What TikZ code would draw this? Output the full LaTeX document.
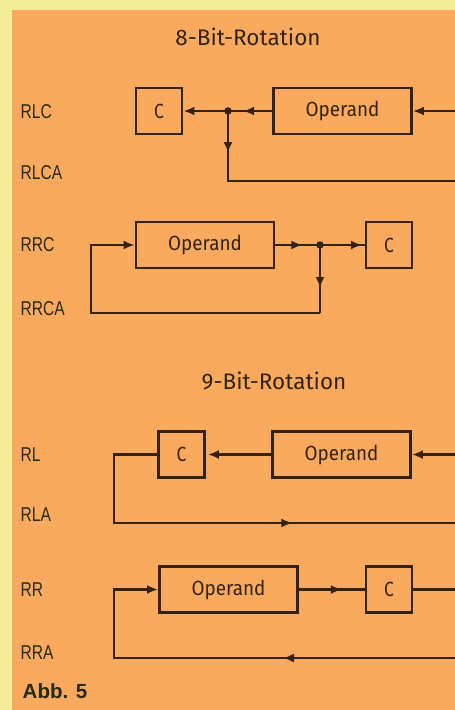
\documentclass[tikz,border=0pt]{standalone}
\usepackage{graphicx}
\usepackage{fontspec}
\setmainfont{Liberation Sans}
\newfontfamily\isofont{Fira Sans}
\usetikzlibrary{arrows.meta,decorations.markings}
\definecolor{paper}{RGB}{244,238,152}
\definecolor{panel}{RGB}{249,170,94}
\definecolor{ink}{RGB}{52,34,16}
\definecolor{labelink}{RGB}{38,42,18}
% condensed lettering for the instruction names and box texts
\newcommand\narrowtext[2]{\scalebox{#1}[1]{#2}}
\tikzset{
  tip/.tip={Latex[length=11pt,width=9pt]},
  wire/.style={draw=ink, line width=2.3pt},
  endtip/.style={-tip},
  tipat/.style={postaction=decorate,
    decoration={markings, mark=at position #1 with {\arrow{tip}}}},
  regbox/.style={draw=ink, line width=2.8pt, minimum height=46pt, inner sep=0pt,
    text=ink, font=\isofont\fontsize{20.5}{20.5}\selectfont},
  cbox/.style={regbox, minimum width=46pt},
  opbox/.style={regbox, minimum width=138pt},
  dot/.style={circle, fill=ink, inner sep=0pt, minimum size=7.5pt},
  oplabel/.style={anchor=west, inner sep=0pt, text=labelink,
    font=\fontsize{20}{20}\selectfont},
  heading/.style={text=ink, font=\isofont\fontsize{22.5}{22.5}\selectfont},
}
\begin{document}
\begin{tikzpicture}[x=1pt,y=-1pt]
  % sheet and coloured panel
  \fill[paper] (0,0) rectangle (455,710);
  \fill[panel] (12,10) rectangle (455,710);
  \useasboundingbox (0,0) rectangle (455,710);

  % ---------- 8-bit rotation ----------
  \node[heading] (t8) at (248,37) {8-Bit-Rotation};

  \node[oplabel] (lrlc)  at (20.5,111.5) {\narrowtext{0.78}{RLC}};
  \node[oplabel] (lrlca) at (20.5,172.5) {\narrowtext{0.78}{RLCA}};
  \node[cbox]  (c1)  at (159,111) {\narrowtext{0.85}{C}};
  \node[opbox] (op1) at (342.5,111) {\narrowtext{0.92}{Operand}};
  \node[dot]   (j1)  at (228,111) {};
  \coordinate (in1)  at (455,111);
  \coordinate (d1)   at (228,181);
  \coordinate (out1) at (455,181);
  \draw[wire, endtip] (in1) -- (op1.east);
  \draw[wire, tipat=29pt] (op1.west) -- (j1.center);
  \draw[wire, endtip] (j1.center) -- (c1.east);
  \draw[wire, tipat=42pt] (j1.center) -- (d1) -- (out1);

  \node[oplabel] (lrrc)  at (20.5,245) {\narrowtext{0.78}{RRC}};
  \node[oplabel] (lrrca) at (20.5,309) {\narrowtext{0.78}{RRCA}};
  \node[opbox] (op2) at (205,245) {\narrowtext{0.92}{Operand}};
  \node[cbox]  (c2)  at (389,245) {\narrowtext{0.85}{C}};
  \node[dot]   (j2)  at (320,245) {};
  \coordinate (d2)  at (320,313);
  \coordinate (b2)  at (91,313);
  \coordinate (u2)  at (91,245);
  \draw[wire, tipat=27pt] (op2.east) -- (j2.center);
  \draw[wire, tipat=42pt] (j2.center) -- (c2.west);
  \draw[wire, tipat=43pt] (j2.center) -- (d2);
  \draw[wire, endtip] (d2) -- (b2) -- (u2) -- (op2.west);

  % ---------- 9-bit rotation ----------
  \node[heading] (t9) at (274,381) {9-Bit-Rotation};

  \node[oplabel] (lrl)  at (20.5,455) {\narrowtext{0.78}{RL}};
  \node[oplabel] (lrla) at (20.5,515) {\narrowtext{0.78}{RLA}};
  \node[cbox]  (c3)  at (181.5,454.5) {\narrowtext{0.85}{C}};
  \node[opbox] (op3) at (341.5,454.5) {\narrowtext{0.92}{Operand}};
  \coordinate (in3) at (455,454.5);
  \coordinate (l3)  at (114,454.5);
  \coordinate (b3)  at (114,523);
  \coordinate (out3) at (455,523);
  \draw[wire, endtip] (in3) -- (op3.east);
  \draw[wire, endtip, shorten >=2pt] (op3.west) -- (c3.east);
  \draw[wire, tipat=290pt] (c3.west) -- (l3) -- (b3) -- (out3);

  \node[oplabel] (lrr)  at (20.5,590) {\narrowtext{0.78}{RR}};
  \node[oplabel] (lrra) at (20.5,653) {\narrowtext{0.78}{RRA}};
  \node[opbox] (op4) at (228.5,589.5) {\narrowtext{0.92}{Operand}};
  \node[cbox]  (c4)  at (389,589.5) {\narrowtext{0.85}{C}};
  \coordinate (out4) at (455,589.5);
  \coordinate (in4)  at (455,658);
  \coordinate (b4)   at (114,658);
  \coordinate (u4)   at (114,589.5);
  \draw[wire, tipat=43pt] (op4.east) -- (c4.west);
  \draw[wire] (c4.east) -- (out4);
  \draw[wire, tipat=172pt, endtip] (in4) -- (b4) -- (u4) -- (op4.west);

  \node[anchor=west, inner sep=0pt, text=labelink,
    font=\bfseries\fontsize{20.5}{20.5}\selectfont] (abb) at (22.5,691) {Abb. 5};
\end{tikzpicture}
\end{document}
